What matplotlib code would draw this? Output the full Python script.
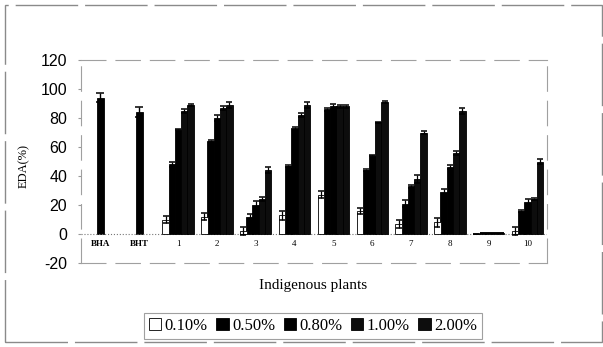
import numpy as np
import matplotlib
matplotlib.use('Agg')
import matplotlib.pyplot as plt
from matplotlib.patches import Rectangle

# data
controls     = ['BHA', 'BHT']
control_vals = [94, 84]
control_err  = [3, 3.5]

plants = ['1', '2', '3', '4', '5', '6', '7', '8', '9', '10']
series = ['0.10%', '0.50%', '0.80%', '1.00%', '2.00%']
eda_010 = [10, 12, 2, 13, 27, 16, 7, 8, 0.0, 2]
eda_050 = [48, 64, 12, 47, 86, 44, 21, 29, 0.4, 16]
eda_080 = [72, 80, 20, 73, 88, 54, 33, 46, 1.0, 22]
eda_100 = [85, 87, 24, 82, 88, 77, 38, 56, 1.0, 24]
eda_200 = [89, 89, 44, 89, 88, 91, 70, 85, 0.4, 50]
err_010 = [2.5, 2.5, 2.5, 3, 2.5, 2, 3, 3, 0, 2.5]
err_050 = [1.5, 0.5, 2, 0.5, 1, 0.5, 2.5, 2, 0, 0.5]
err_080 = [0.5, 2, 3, 1, 2, 0.5, 1, 1.5, 0, 2]
err_100 = [1.5, 1.5, 1.5, 1.5, 1, 0.5, 2.5, 1.5, 0, 0.5]
err_200 = [0.5, 2, 2, 2, 1, 0.5, 1, 2, 0, 1.5]

values = [eda_010, eda_050, eda_080, eda_100, eda_200]
errors = [err_010, err_050, err_080, err_100, err_200]
faces  = ['white', 'black', 'black', '#0d0d0d', '#0d0d0d']

serif = 'Liberation Serif'
sans  = 'Liberation Sans'

fig = plt.figure(figsize=(6.03, 3.47), dpi=100)
ax = fig.add_axes([81/603, 1 - 263/347, 466/603, 203/347])

labels = controls + plants
x = np.arange(len(labels))
w = 0.16

# controls: single centred bar
ax.bar(x[:2], control_vals, w * 1.1, color='black', edgecolor='black', lw=0.6,
       yerr=control_err, capsize=3, error_kw=dict(lw=1.0, capthick=1.1, ecolor='black'))

# plant extracts, five concentrations each (slight overlap so the blacks merge)
xp = x[2:]
for i, (name, vals, errs, fc) in enumerate(zip(series, values, errors, faces)):
    ax.bar(xp + (i - 2) * w, vals, w * 1.06, color=fc, edgecolor='black', lw=0.6,
           yerr=errs, capsize=2.5, label=name, zorder=2 + (i == 0),
           error_kw=dict(lw=0.9, capthick=1.1, ecolor='black'))

ax.axhline(0, color='#777777', lw=0.8, ls=':', zorder=1)

ax.set_xlim(-0.5, len(labels) - 0.5)
ax.set_ylim(-20, 120)
ax.set_yticks(np.arange(-20, 121, 20))
ax.set_yticklabels([str(v) for v in range(-20, 121, 20)], fontfamily=sans, fontsize=11.5)
ax.tick_params(axis='y', direction='out', length=2, color='#999999', pad=8)
ax.set_xticks([])

# category labels sit just under the zero line, inside the axes
for xi, lab in zip(x, labels):
    ax.text(xi, -7, lab, ha='center', va='center', fontfamily=serif,
            fontsize=6.5, fontweight='bold' if lab in controls else 'normal')

for sp in ax.spines.values():
    sp.set_color('#a0a0a0')
    sp.set_linewidth(0.8)
    sp.set_linestyle((0, (22, 9)))

ax.set_ylabel('EDA(%)', fontfamily=serif, fontsize=9, labelpad=18)
ax.yaxis.set_label_coords(-0.11, 0.48)
fig.text(313/603, 1 - 285/347, 'Indigenous plants', ha='center', va='center',
         fontfamily=serif, fontsize=11)

leg = fig.legend(loc='center', bbox_to_anchor=(313/603, 1 - 326/347), ncol=5,
                 prop=dict(family=serif, size=12), frameon=True, fancybox=False,
                 handlelength=0.75, handleheight=0.75, handletextpad=0.2,
                 columnspacing=0.5, borderpad=0.3, borderaxespad=0)
leg.get_frame().set_edgecolor('#888888')
leg.get_frame().set_linewidth(0.8)
for h in leg.legend_handles:
    h.set_edgecolor('black')

# outer border of the chart area (scanned page)
fig.patches.append(Rectangle((5/603, 1 - 342/347), 597/603, 337/347,
                             transform=fig.transFigure, fill=False,
                             edgecolor='#8a8a8a', lw=1.0, ls=(0, (45, 5))))

fig.savefig('out.png', dpi=100)
